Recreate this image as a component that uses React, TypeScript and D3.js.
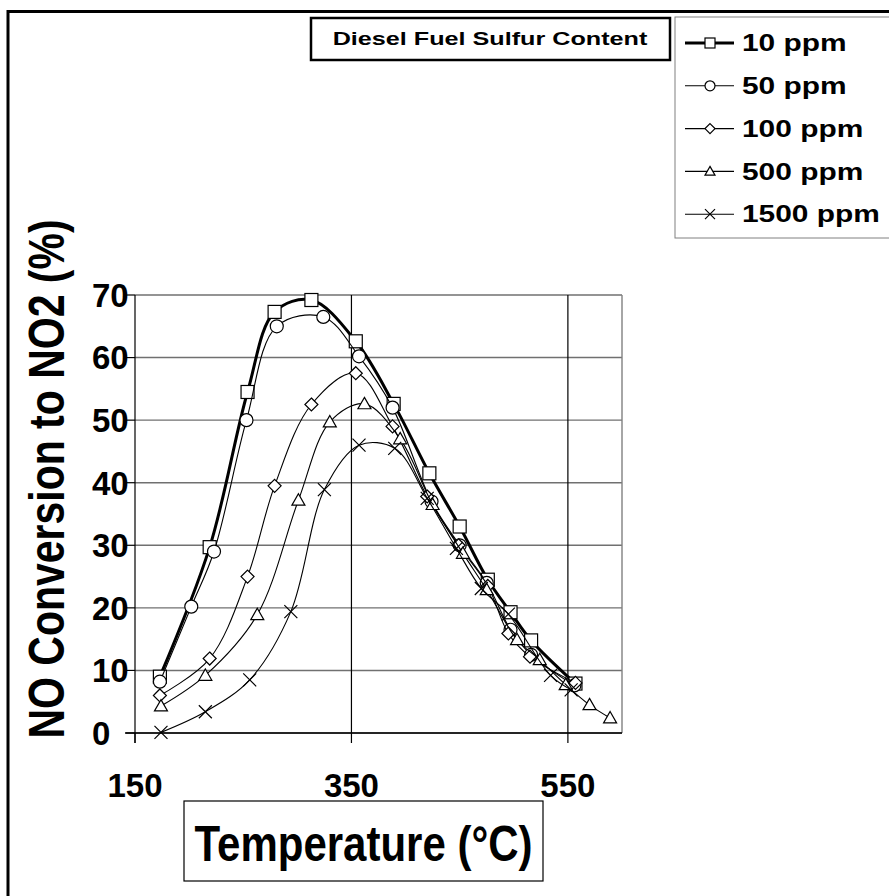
import React from 'react'
import * as d3 from 'd3'

const width = 889
const height = 896

// NO conversion (%) vs temperature (°C), per fuel sulfur level
const ppm10 = [[173, 9.0], [219, 29.7], [254, 54.5], [279, 67.3], [313, 69.2], [354, 62.6], [389, 52.6], [422, 41.5], [450, 33.0], [476, 24.5], [497, 19.3], [516, 14.8], [557, 7.9]]
const ppm50 = [[173, 8.2], [202, 20.2], [223, 29.0], [253, 50.0], [281, 65.0], [324, 66.5], [357, 60.2], [388, 52.0], [424, 37.0], [450, 30.0], [475, 24.0], [497, 16.5], [516, 12.5], [556, 7.6]]
const ppm100 = [[173, 6.0], [219, 11.9], [254, 25.0], [279, 39.5], [313, 52.5], [354, 57.5], [388, 49.0], [420, 37.8], [449, 30.0], [476, 23.5], [495, 15.9], [515, 12.2], [557, 8.0]]
const ppm500 = [[174, 4.3], [215, 9.2], [263, 18.9], [301, 37.2], [330, 49.7], [362, 52.6], [395, 47.0], [425, 36.5], [453, 28.7], [475, 22.9], [503, 14.9], [524, 11.7], [548, 7.7], [570, 4.5], [589, 2.4]]
const ppm1500 = [[174, 0.1], [215, 3.4], [256, 8.5], [294, 19.4], [325, 38.9], [357, 46.0], [390, 45.5], [420, 37.5], [447, 29.5], [470, 23.1], [495, 19.0], [534, 9.2], [553, 6.9]]

const seriesLabels = ['10 ppm', '50 ppm', '100 ppm', '500 ppm', '1500 ppm']
const markers = ['square', 'circle', 'diamond', 'triangle', 'cross']
const xTicks = [150, 350, 550]
const yTicks = [0, 10, 20, 30, 40, 50, 60, 70]

const series = [ppm10, ppm50, ppm100, ppm500, ppm1500].map((data, i) => ({
  label: seriesLabels[i],
  marker: markers[i],
  data,
  lineWidth: i === 0 ? 3 : 1.1
}))

const font = '"Liberation Sans", Arial, sans-serif'

function Marker({ shape, x, y, s }: { shape: string, x: number, y: number, s: number }) {
  const st = { fill: '#fff', stroke: '#000', strokeWidth: 1.2 }
  const h = s / 2
  if (shape === 'square') return <rect x={x - h} y={y - h} width={s} height={s} {...st} />
  if (shape === 'circle') return <circle cx={x} cy={y} r={h} {...st} />
  if (shape === 'diamond') return <path d={`M${x},${y - h}L${x + h},${y}L${x},${y + h}L${x - h},${y}Z`} {...st} />
  if (shape === 'triangle') return <path d={`M${x},${y - h}L${x + h},${y + h * 0.75}L${x - h},${y + h * 0.75}Z`} {...st} />
  return <path d={`M${x - h},${y - h}L${x + h},${y + h}M${x + h},${y - h}L${x - h},${y + h}`} stroke="#000" strokeWidth={1.2} fill="none" />
}

export default function App() {
  const x = d3.scaleLinear().domain([150, 600]).range([135, 622])
  const y = d3.scaleLinear().domain([0, 70]).range([733, 295])
  const line = d3.line<number[]>()
    .x(d => x(d[0]))
    .y(d => y(d[1]))
    .curve(d3.curveCatmullRom.alpha(0.5))

  return (
    <div>
      <style>{`body{margin:0} svg{display:block}`}</style>
      <svg width={width} height={height} style={{ fontFamily: font, fontWeight: 'bold' }}>
        <rect x={0} y={0} width={width} height={height} fill="#fff" />
        {/* outer frame */}
        <rect x={8} y={11.5} width={900} height={900} fill="none" stroke="#000" strokeWidth={3} />

        {/* grid */}
        {yTicks.map(t => (
          <line key={t} x1={x(150)} x2={x(600)} y1={y(t)} y2={y(t)} stroke="#707070" strokeWidth={1.4} />
        ))}
        {xTicks.slice(1).map(t => (
          <line key={t} x1={x(t)} x2={x(t)} y1={y(70)} y2={y(0)} stroke="#000" strokeWidth={1.2} />
        ))}
        <line x1={x(600)} x2={x(600)} y1={y(70)} y2={y(0)} stroke="#808080" strokeWidth={1.4} />

        {/* axes */}
        <line x1={x(150)} x2={x(150)} y1={y(70)} y2={y(0) + 10} stroke="#000" strokeWidth={1.2} />
        <line x1={x(150) - 10} x2={x(600)} y1={y(0)} y2={y(0)} stroke="#000" strokeWidth={1.4} />
        {xTicks.map(t => (
          <line key={t} x1={x(t)} x2={x(t)} y1={y(0)} y2={y(0) + 10} stroke="#000" strokeWidth={1.2} />
        ))}
        {yTicks.map(t => (
          <line key={t} x1={x(150) - 9} x2={x(150)} y1={y(t)} y2={y(t)} stroke="#000" strokeWidth={1.2} />
        ))}

        {/* tick labels */}
        {yTicks.map(t => (
          <text key={t} x={92} y={y(t)} dy="0.36em" fontSize={33}>{t}</text>
        ))}
        {xTicks.map(t => (
          <text key={t} x={x(t)} y={797} textAnchor="middle" fontSize={33}>{t}</text>
        ))}

        {/* series */}
        {series.map(s => (
          <g key={s.label}>
            <path d={line(s.data) || ''} fill="none" stroke="#000" strokeWidth={s.lineWidth} />
            {s.data.map((d, i) => (
              <Marker key={i} shape={s.marker} x={x(d[0])} y={y(d[1])} s={13} />
            ))}
          </g>
        ))}

        {/* axis titles */}
        <text transform="translate(64,479) rotate(-90) scale(1,1.2)" textAnchor="middle" fontSize={41}>NO Conversion to NO2 (%)</text>
        <rect x={184} y={801} width={359} height={80} fill="#fff" stroke="#000" strokeWidth={1.2} />
        <text transform="translate(363.5,861) scale(1,1.2)" textAnchor="middle" fontSize={42}>Temperature (°C)</text>

        {/* legend title */}
        <rect x={311} y={18} width={359} height={42} fill="#fff" stroke="#000" strokeWidth={2.5} />
        <text transform="translate(490,45) scale(1.4,1)" textAnchor="middle" fontSize={18}>Diesel Fuel Sulfur Content</text>

        {/* legend */}
        <rect x={675} y={17} width={230} height={221} fill="#fff" stroke="#808080" strokeWidth={1} />
        {series.map((s, i) => {
          const ly = 43 + i * 42.8
          return (
            <g key={s.label}>
              <line x1={685} x2={734} y1={ly} y2={ly} stroke="#000" strokeWidth={s.lineWidth} />
              <Marker shape={s.marker} x={710} y={ly} s={10} />
              <text transform={`translate(742,${ly}) scale(1.3,1)`} dy="0.36em" fontSize={23}>{s.label}</text>
            </g>
          )
        })}
      </svg>
    </div>
  )
}
